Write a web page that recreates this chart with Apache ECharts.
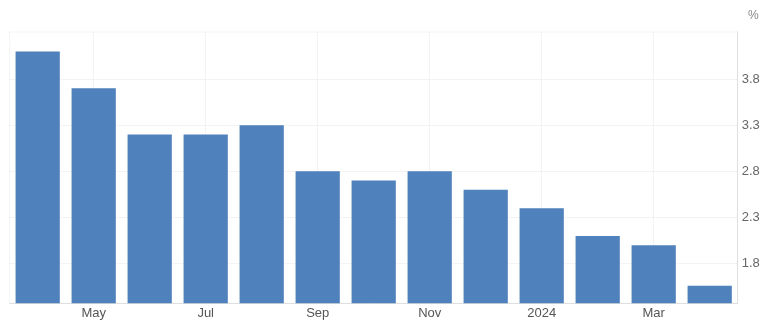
<!DOCTYPE html>
<html>
<head>
<meta charset="utf-8">
<script src="https://cdn.jsdelivr.net/npm/echarts@6/dist/echarts.min.js"></script>
<style>html,body{margin:0;padding:0;background:#fff;}#c{width:768px;height:328px;}</style>
</head>
<body>
<div id="c"></div>
<script>
const categories = ['Apr', 'May', 'Jun', 'Jul', 'Aug', 'Sep', 'Oct', 'Nov', 'Dec', '2024', 'Feb', 'Mar', 'Apr'];
const values = [4.1, 3.7, 3.2, 3.2, 3.3, 2.8, 2.7, 2.8, 2.6, 2.4, 2.1, 2.0, 1.56];
const yTicks = [1.8, 2.3, 2.8, 3.3, 3.8];
const unitLabel = '%';

const chart = echarts.init(document.getElementById('c'), null, {renderer: 'canvas'});
chart.setOption({
  animation: false,
  backgroundColor: '#fff',
  title: {
    text: unitLabel, left: 743, top: 5,
    textStyle: {fontFamily: 'Liberation Sans', fontSize: 12, fontWeight: 'normal', color: '#888'}
  },
  grid: {
    left: 9.7, right: 30.3, top: 32, bottom: 24.7,
    show: true, borderColor: '#e8e8e8', borderWidth: 1, borderType: 'dotted'
  },
  xAxis: {
    type: 'category',
    data: categories,
    axisLine: {show: true, lineStyle: {color: '#e0e0e0'}},
    axisTick: {show: false},
    axisLabel: {
      interval: (i) => i % 2 === 1,
      margin: 4,
      fontFamily: 'Liberation Sans', fontSize: 13, color: '#555'
    },
    splitLine: {
      show: true, alignWithLabel: true,
      interval: (i) => i % 2 === 1,
      lineStyle: {color: '#e8e8e8', type: 'dotted'}
    }
  },
  yAxis: {
    type: 'value',
    position: 'right',
    min: 1.37, max: 4.31,
    axisLine: {show: true, lineStyle: {color: '#e0e0e0'}},
    axisTick: {show: false, customValues: yTicks},
    axisLabel: {
      customValues: yTicks,
      margin: 4,
      formatter: (v) => v.toFixed(1),
      fontFamily: 'Liberation Sans', fontSize: 13, color: '#666'
    },
    splitLine: {show: true, lineStyle: {color: '#e8e8e8', type: 'dotted'}}
  },
  series: [{
    type: 'bar',
    data: values,
    barCategoryGap: '21%',
    itemStyle: {color: '#4f81bd'}
  }]
});
</script>
</body>
</html>
